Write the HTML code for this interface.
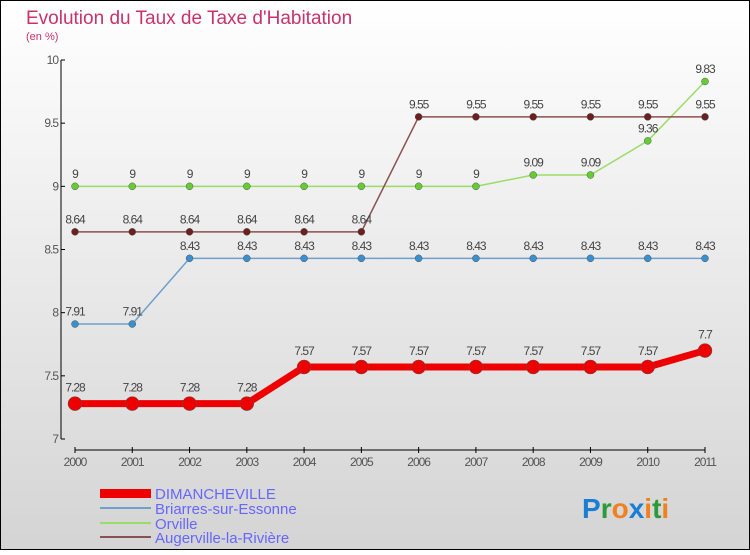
<!DOCTYPE html>
<html><head><meta charset="utf-8"><style>
body{margin:0}
svg text{font-family:"Liberation Sans",sans-serif}
</style></head><body>
<svg width="750" height="550" xmlns="http://www.w3.org/2000/svg">
<defs><linearGradient id="bg" x1="0" y1="0" x2="0" y2="1"><stop offset="0" stop-color="#ffffff"/><stop offset="1" stop-color="#d4d4d4"/></linearGradient></defs>
<rect x="0.5" y="0.5" width="749" height="549" fill="url(#bg)" stroke="#000"/>
<text x="26" y="24" font-size="19" fill="#c8336a">Evolution du Taux de Taxe d'Habitation</text>
<text x="26" y="40" font-size="11" fill="#c8336a">(en %)</text>
<g id="axes"></g><g id="series"></g>
<g>
<rect x="100" y="489" width="51" height="9" fill="#e00"/>
<text x="155" y="499" font-size="15" fill="#6666ff">DIMANCHEVILLE</text>
<rect x="100" y="507" width="51" height="2" fill="#6fa0cc"/>
<text x="155" y="514" font-size="15" fill="#6666ff">Briarres-sur-Essonne</text>
<rect x="100" y="522" width="51" height="2" fill="#99dd66"/>
<text x="155" y="529" font-size="15" fill="#6666ff">Orville</text>
<rect x="100" y="536" width="51" height="2" fill="#8b5050"/>
<text x="155" y="543" font-size="15" fill="#6666ff">Augerville-la-Rivière</text>
</g>
<g font-size="28" font-weight="bold">
<text x="582" y="518"><tspan fill="#1a7fd4">P</tspan><tspan fill="#2a9a3a">r</tspan><tspan fill="#f08020">o</tspan><tspan fill="#1a7fd4">x</tspan><tspan fill="#f08020">i</tspan><tspan fill="#2a9a3a">t</tspan><tspan fill="#f08020">i</tspan></text>
</g>
</svg>
<script>
const years=[2000,2001,2002,2003,2004,2005,2006,2007,2008,2009,2010,2011];
const yTicks=[7,7.5,8,8.5,9,9.5,10];
const dimancheville=[7.28,7.28,7.28,7.28,7.57,7.57,7.57,7.57,7.57,7.57,7.57,7.7];
const briarres=[7.91,7.91,8.43,8.43,8.43,8.43,8.43,8.43,8.43,8.43,8.43,8.43];
const orville=[9,9,9,9,9,9,9,9,9.09,9.09,9.36,9.83];
const augerville=[8.64,8.64,8.64,8.64,8.64,8.64,9.55,9.55,9.55,9.55,9.55,9.55];
const NS='http://www.w3.org/2000/svg';
const xS=i=>75+i*630/11;
const yS=v=>439-(v-7)*379/3;
function mk(t,a,p){const e=document.createElementNS(NS,t);for(const k in a)e.setAttribute(k,a[k]);p.appendChild(e);return e;}
const ax=document.getElementById('axes');
const yl=mk('line',{x1:61,y1:yS(10),x2:61,y2:yS(7),stroke:'#000'},ax);


yTicks.forEach(v=>{
 mk('line',{x1:61,y1:yS(v),x2:65,y2:yS(v),stroke:'#000'},ax);
 const t=mk('text',{x:58,y:yS(v)+4,'font-size':12,fill:'#555','text-anchor':'end','letter-spacing':'-1'},ax);
 t.textContent=v;
 
 
});
const xl=mk('line',{x1:xS(0),y1:450,x2:xS(11),y2:450,stroke:'#000'},ax);


years.forEach((y,i)=>{
 mk('line',{x1:xS(i),y1:447,x2:xS(i),y2:453,stroke:'#000'},ax);
 const t=mk('text',{x:xS(i),y:466,'font-size':12,fill:'#555','text-anchor':'middle','letter-spacing':'-1'},ax);
 t.textContent=y;
 
 
});
const sg=document.getElementById('series');
function draw(name,vals,color,w,r,dot){
 const g=mk('g',{},sg);
 
 
 const pl=mk('polyline',{points:vals.map((v,i)=>xS(i)+','+yS(v)).join(' '),fill:'none',stroke:color,'stroke-width':w},g);
 
 
 vals.forEach((v,i)=>{
  const c=mk('circle',{cx:xS(i),cy:yS(v),r:r,fill:dot,stroke:'#555','stroke-width':0.5},g);
  
  
  const t=mk('text',{x:xS(i),y:yS(v)-(r+5),'font-size':12,fill:'#444','text-anchor':'middle','letter-spacing':'-1'},g);
  t.textContent=v;
  
  
 });
}
draw('briarres',briarres,'#6fa0cc',1.5,3.5,'#3a8fd0');
draw('orville',orville,'#99dd66',1.5,3.5,'#66cc33');
draw('augerville',augerville,'#8b5050',1.5,3.5,'#6b1f1f');
draw('dimancheville',dimancheville,'#ee0000',7,7,'#ee0000');
</script>
</body></html>
